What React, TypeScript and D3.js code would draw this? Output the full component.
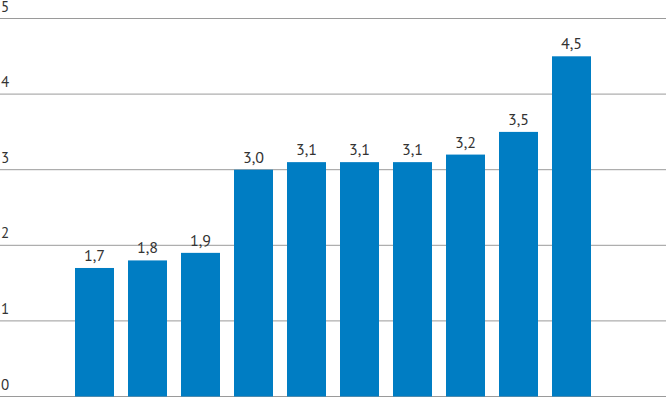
import { useEffect, useRef } from 'react'
import * as d3 from 'd3'

const categories = ['c1', 'c2', 'c3', 'c4', 'c5', 'c6', 'c7', 'c8', 'c9', 'c10']
const values = [1.7, 1.8, 1.9, 3.0, 3.1, 3.1, 3.1, 3.2, 3.5, 4.5]
const yTicks = [0, 1, 2, 3, 4, 5]

export default function App() {
  const svgRef = useRef<SVGSVGElement | null>(null)

  useEffect(() => {
    if (!svgRef.current) return
    const width = 666
    const height = 397

    const svg = d3.select(svgRef.current)
    svg.selectAll('*').remove()
    svg.attr('width', width).attr('height', height)

    const x = d3
      .scaleBand<string>()
      .domain(categories)
      .range([68, 598])
      .paddingInner(14 / 53)
      .paddingOuter(7 / 53)

    const y = d3.scaleLinear().domain([0, 5]).range([396.5, 18.5])

    const font = '"PT Sans", "Open Sans", "DejaVu Sans", sans-serif'

    // grid lines
    svg
      .append('g')
      .selectAll('line')
      .data(yTicks)
      .enter()
      .append('line')
      .attr('x1', 0)
      .attr('x2', width)
      .attr('y1', d => y(d))
      .attr('y2', d => y(d))
      .attr('stroke', '#9a9a9a')
      .attr('stroke-width', 1)

    // y labels
    svg
      .append('g')
      .selectAll('text')
      .data(yTicks)
      .enter()
      .append('text')
      .attr('x', 1)
      .attr('y', d => y(d) - 7)
      .style('font-family', font)
      .style('font-size', '15px')
      .style('fill', '#333')
      .text(d => String(d))

    // bars
    svg
      .append('g')
      .selectAll('rect')
      .data(values)
      .enter()
      .append('rect')
      .attr('x', (d, i) => x(categories[i]) ?? 0)
      .attr('y', d => y(d))
      .attr('width', x.bandwidth())
      .attr('height', d => y(0) - y(d))
      .attr('fill', '#007dc3')

    // value labels
    svg
      .append('g')
      .selectAll('text')
      .data(values)
      .enter()
      .append('text')
      .attr('x', (d, i) => (x(categories[i]) ?? 0) + x.bandwidth() / 2)
      .attr('y', d => y(d) - 7)
      .attr('text-anchor', 'middle')
      .style('font-family', font)
      .style('font-size', '16px')
      .style('fill', '#333')
      .text(d => d.toFixed(1).replace('.', ','))
  }, [])

  return (
    <svg
      ref={svgRef}
      style={{ position: 'absolute', left: 0, top: 0, display: 'block' }}
    ></svg>
  )
}
